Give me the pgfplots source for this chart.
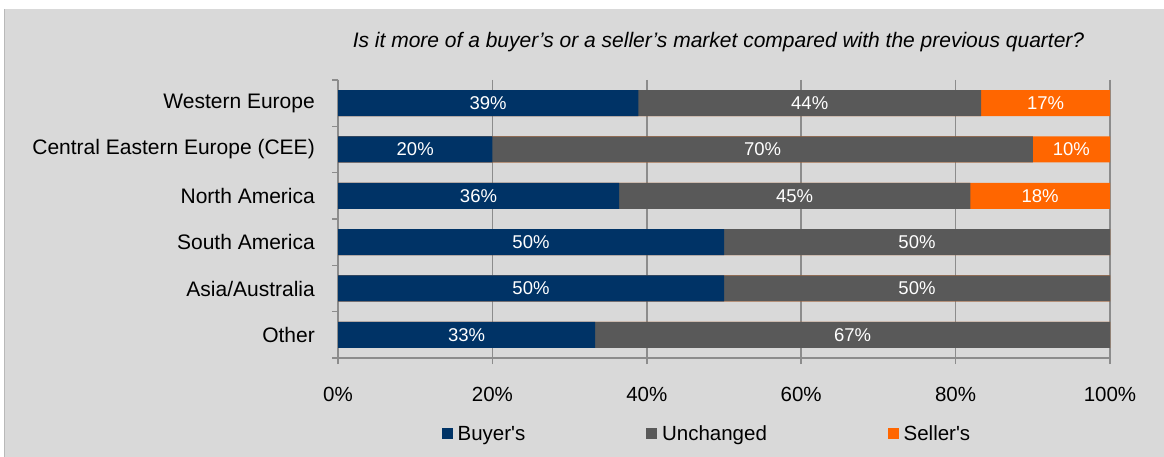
\documentclass[border=0pt]{standalone}
\usepackage{fontspec}
\setmainfont{Liberation Sans}[Ligatures=TeXOff]
\usepackage{pgfplots}
\pgfplotsset{compat=1.18}
\usepackage{pgfplotstable}
\definecolor{bg}{HTML}{D9D9D9}
\definecolor{buyer}{HTML}{003366}
\definecolor{unch}{HTML}{595959}
\definecolor{seller}{HTML}{FF6600}
\definecolor{gridc}{HTML}{8C8C8C}

\pgfplotstableread{
y b u s bl ul sl
0 38.9 44.4 16.7 39 44 17
1 20.0 70.0 10.0 20 70 10
2 36.4 45.5 18.1 36 45 18
3 50.0 50.0 0 50 50 0
4 50.0 50.0 0 50 50 0
5 33.3 66.7 0 33 67 0
}\data

\begin{document}
\begin{tikzpicture}[x=1pt,y=1pt]
\useasboundingbox (0,0) rectangle (1164,457);
\fill[bg] (4,0) rectangle (1164,448);
\draw[gray!55, line width=0.5pt] (4.25,0) -- (4.25,448);
\node[font=\fontsize{21}{25}\selectfont\itshape] at (718.5,415) {Is it more of a buyer’s or a seller’s market compared with the previous quarter?};
\begin{axis}[
  at={(338pt,99pt)}, anchor=south west,
  scale only axis, width=772pt, height=278pt,
  xmin=0, xmax=100, ymin=-0.5, ymax=5.5, y dir=reverse,
  axis x line*=bottom, axis y line*=left,
  axis line style={gridc, line width=1.5pt},
  xtick={0,20,...,100},
  xticklabels={0\%,20\%,40\%,60\%,80\%,100\%},
  xmajorgrids, grid style={gridc, line width=1.5pt},
  tick align=outside, major tick length=6pt,
  tick style={gridc, line width=1.5pt},
  ytick={-0.5,0.5,...,5.5}, yticklabels={},
  extra y ticks={0,1,2,3,4,5},
  extra y tick labels={Western Europe, Central Eastern Europe (CEE), North America, South America, Asia/Australia, Other},
  extra y tick style={major tick length=0pt, grid=none},
  yticklabel style={font=\fontsize{21}{25}\selectfont, text=black, anchor=east, inner sep=0pt, xshift=-23pt},
  xticklabel style={font=\fontsize{20.5}{24}\selectfont, text=black, anchor=north, inner sep=0pt, yshift=-23pt},
  reverse legend, legend columns=3,
  legend style={at={(0.4766,-0.2727)}, anchor=center, draw=none, fill=none,
    font=\fontsize{20.5}{24}\selectfont,
    /tikz/every odd column/.append style={column sep=5pt},
    /tikz/every even column/.append style={column sep=120.7pt},
    nodes={inner sep=0pt}},
  nodes near coords align={center},
]
\addplot[xbar, bar width=26pt, bar shift=0pt, fill=seller, draw=none,
  legend image code/.code={\fill[seller] (0pt,-5.5pt) rectangle (11pt,5.5pt);}]
  table[x expr=\thisrow{b}+\thisrow{u}+\thisrow{s}, y=y]{\data};
\addlegendentry{Seller's}
\addplot[xbar, bar width=26pt, bar shift=0pt, fill=unch, draw=none,
  legend image code/.code={\fill[unch] (0pt,-5.5pt) rectangle (11pt,5.5pt);}]
  table[x expr=\thisrow{b}+\thisrow{u}, y=y]{\data};
\addlegendentry{Unchanged}
\addplot[xbar, bar width=26pt, bar shift=0pt, fill=buyer, draw=none,
  legend image code/.code={\fill[buyer] (0pt,-5.5pt) rectangle (11pt,5.5pt);}]
  table[x=b, y=y]{\data};
\addlegendentry{Buyer's}

\pgfplotsset{lbl/.style={draw=none, mark=none, forget plot,
  nodes near coords={\pgfplotspointmeta\%}, point meta=explicit symbolic,
  every node near coord/.append style={anchor=center, text=white, inner sep=0pt,
    font=\fontsize{18.5}{22}\selectfont}}}
\addplot[lbl] table[x expr=\thisrow{b}/2, y=y, meta=bl]{\data};
\addplot[lbl] table[x expr=\thisrow{b}+\thisrow{u}/2, y=y, meta=ul]{\data};
\addplot[lbl, skip coords between index={3}{6}] table[x expr=\thisrow{b}+\thisrow{u}+\thisrow{s}/2, y=y, meta=sl]{\data};
\end{axis}
\end{tikzpicture}
\end{document}
